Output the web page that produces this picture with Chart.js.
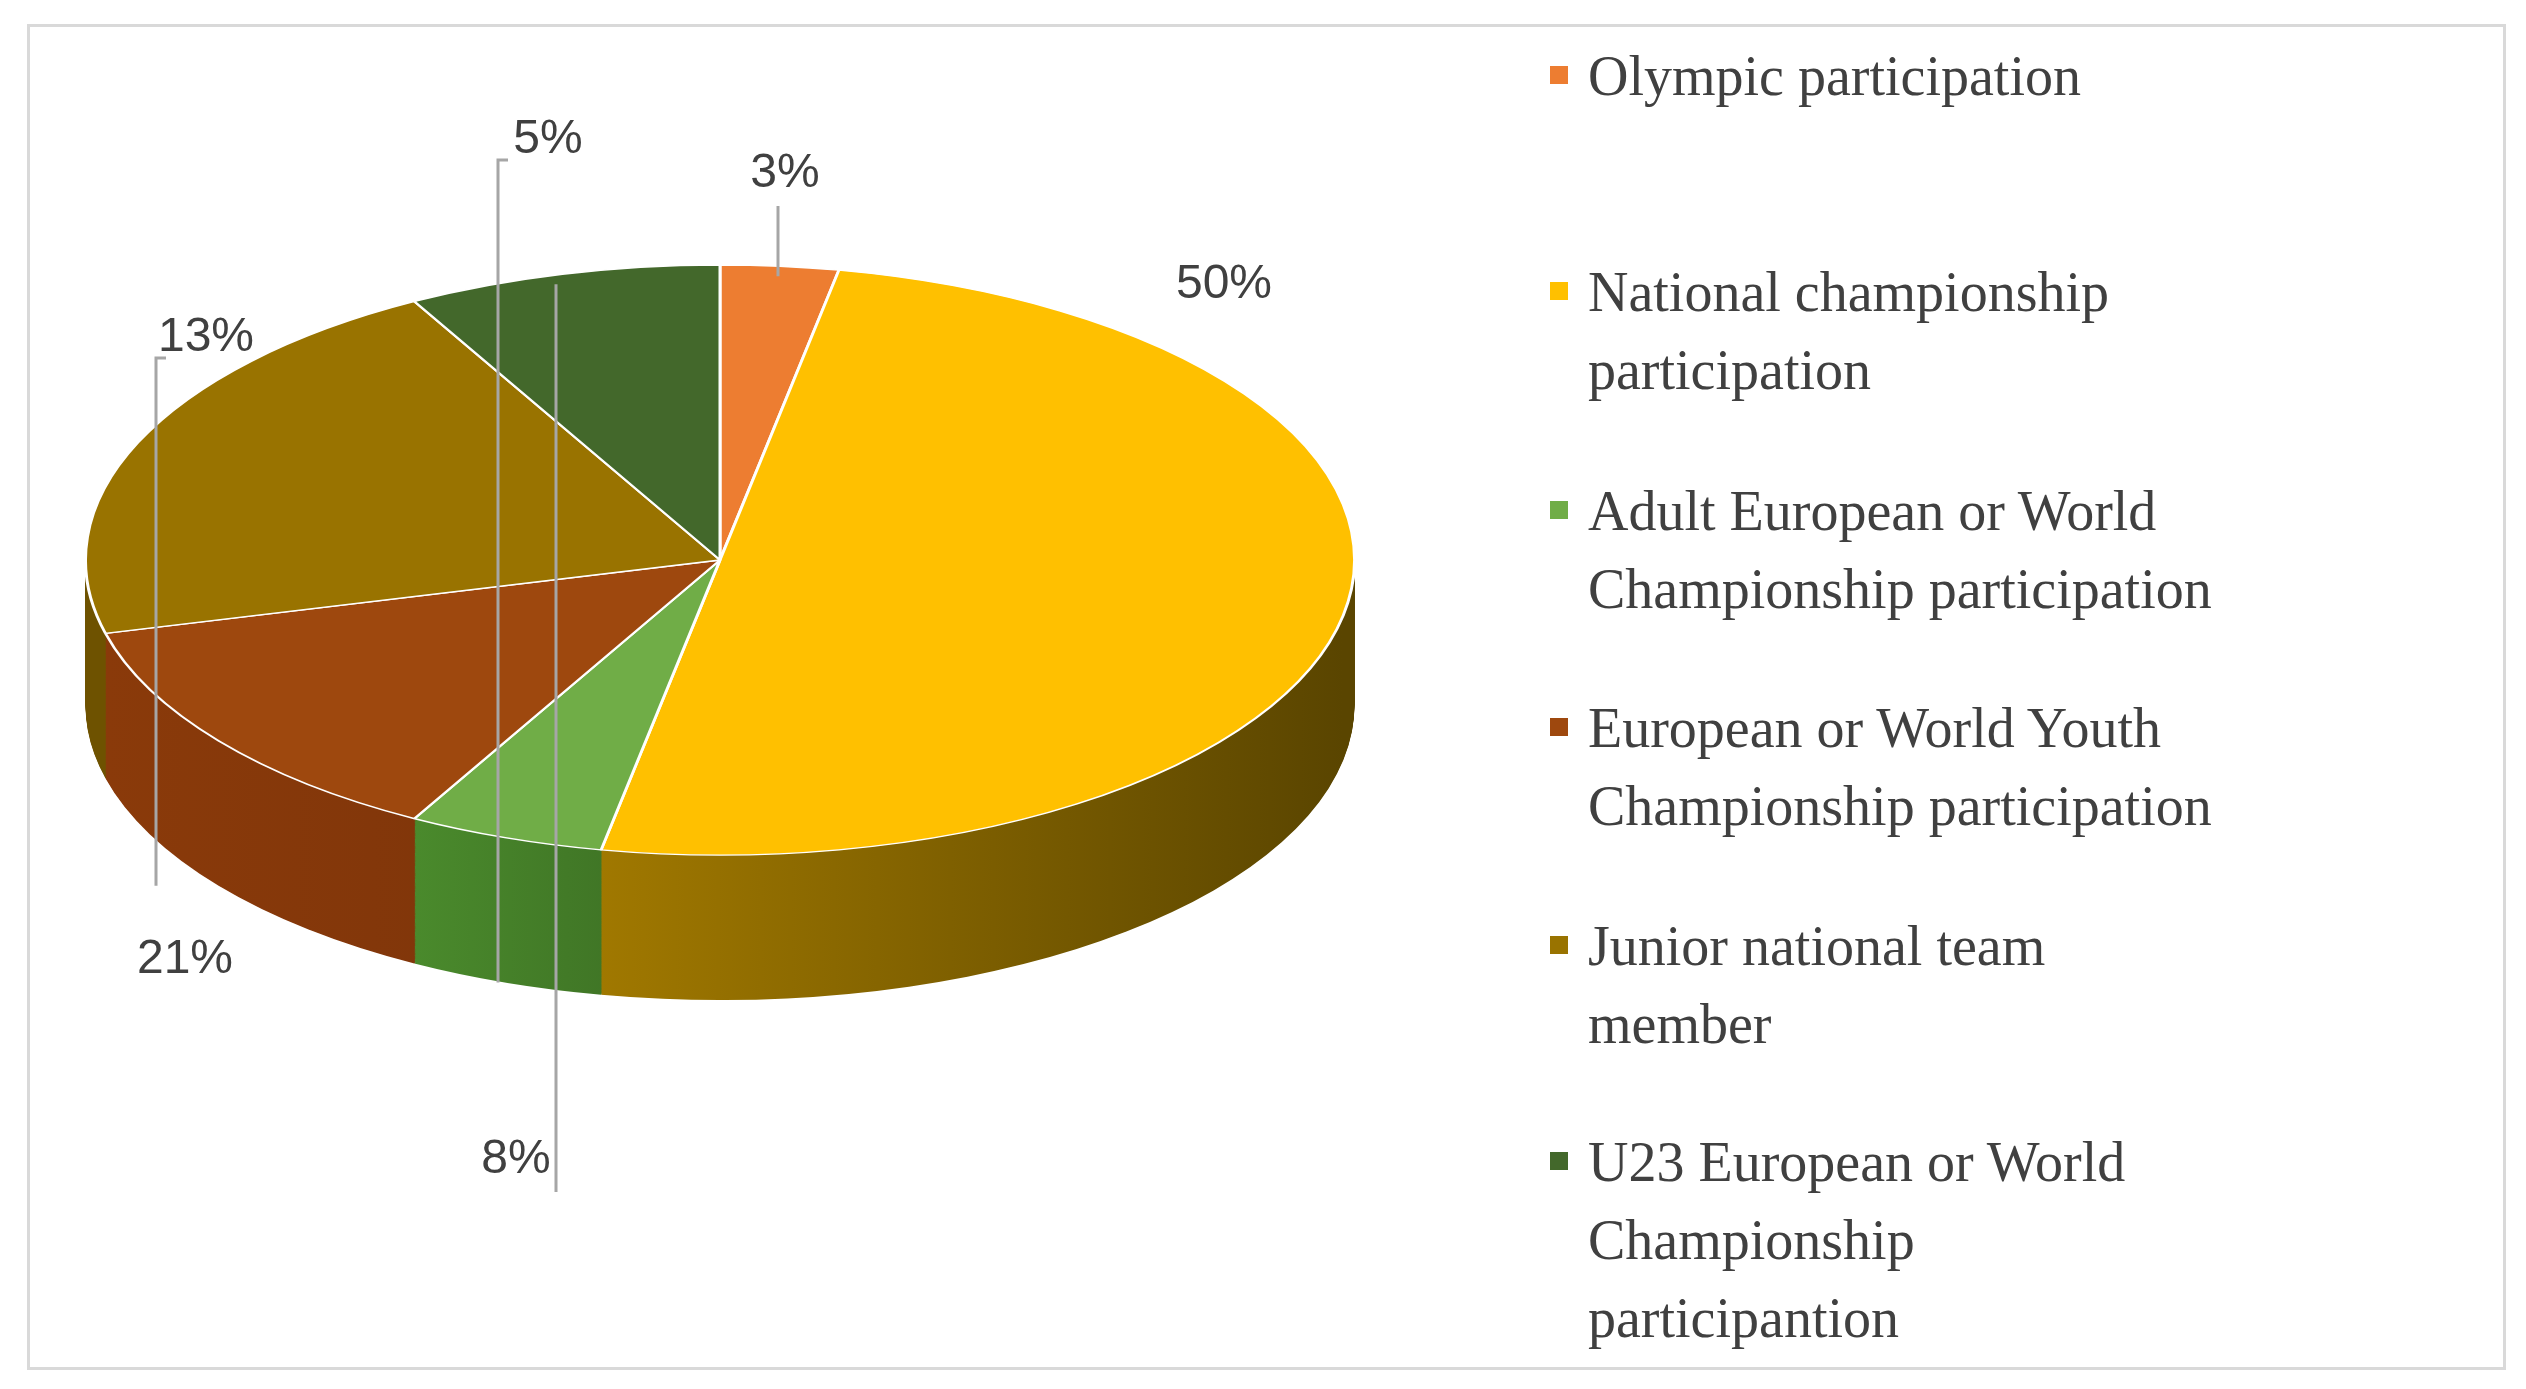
<!DOCTYPE html>
<html>
<head>
<meta charset="utf-8">
<script src="https://cdn.jsdelivr.net/npm/chart.js@4"></script>
<style>
  body { margin: 0; background: #fff; width: 2526px; height: 1389px; overflow: hidden; position: relative; }
  #frame { position: absolute; left: 27px; top: 24px; width: 2473px; height: 1340px; border: 3px solid #d9d9d9; }
  #wrap { position: absolute; left: 84px; top: 0; width: 1272px; height: 1389px; }
  .leg { position: absolute; left: 1588px; font: 56px "Liberation Serif", serif; color: #404040; line-height: 78px; }
  .leg i { position: absolute; left: -38px; top: 29px; width: 18px; height: 18px; }
</style>
</head>
<body>
<div id="frame"></div>
<div id="wrap"><canvas id="grafico"></canvas></div>
<div id="legend"></div>
<script>
const categorias = [
  "Olympic participation",
  "National championship\nparticipation",
  "Adult European or World\nChampionship participation",
  " European or World Youth\nChampionship participation",
  "Junior national team\nmember",
  "U23 European or World\nChampionship\nparticipantion"
];
const valores = [3, 50, 5, 13, 21, 8];
const colores = ["#ED7D31", "#FFC000", "#70AD47", "#9E480E", "#997300", "#43682B"];
const ladosIzq = ["#b85d20", "#a07800", "#4a8a2c", "#8a3a0a", "#6e5200", "#2f4c1d"];
const ladosDer = ["#b85d20", "#5a4500", "#3a6a22", "#7a330a", "#6e5200", "#2f4c1d"];

// leyenda en HTML
const topes = [37, 253, 472, 689, 907, 1123];
const legend = document.getElementById("legend");
categorias.forEach((c, i) => {
  const d = document.createElement("div");
  d.className = "leg";
  d.style.top = topes[i] + "px";
  d.innerHTML = '<i style="background:' + colores[i] + '"></i>' + c.replace(/\n/g, "<br>");
  legend.appendChild(d);
});

const CY = 560;      // centro visual
const K = 0.465;     // aplastamiento vertical
const PROF = 145;    // profundidad 3D
// posición de etiquetas (coordenadas del lienzo) y si llevan línea guía
const posEtiq = [[701, 174], [1140, 285], [464, 140], [122, 338], [101, 960], [432, 1160]];
const guia = [true, false, true, true, false, true];

const pie3d = {
  id: "pie3d",
  beforeDatasetsDraw(chart) {
    const ctx = chart.ctx;
    const arcs = chart.getDatasetMeta(0).data;
    const cx = arcs[0].x, cy = arcs[0].y, r = arcs[0].outerRadius;
    ctx.save();
    ctx.translate(cx, CY);
    ctx.scale(1, K);
    ctx.translate(-cx, -cy);
    const grads = arcs.map((a, i) => {
      const xs = [a.startAngle, a.endAngle, (a.startAngle + a.endAngle) / 2].map(t => cx + r * Math.cos(t));
      const g = ctx.createLinearGradient(Math.min(...xs, cx), 0, Math.max(...xs, cx), 0);
      g.addColorStop(0, ladosIzq[i]);
      g.addColorStop(1, ladosDer[i]);
      return g;
    });
    for (let off = PROF / K; off > 0; off -= 2) {
      arcs.forEach((a, i) => {
        ctx.beginPath();
        ctx.moveTo(cx, cy + off);
        ctx.arc(cx, cy + off, a.outerRadius, a.startAngle, a.endAngle);
        ctx.closePath();
        ctx.fillStyle = grads[i];
        ctx.fill();
      });
    }
  },
  afterDatasetsDraw(chart) {
    const ctx = chart.ctx;
    ctx.restore();
    const arcs = chart.getDatasetMeta(0).data;
    const cx = arcs[0].x, r = arcs[0].outerRadius;
    ctx.font = "48px 'Liberation Sans', sans-serif";
    ctx.fillStyle = "#404040";
    ctx.textAlign = "center";
    ctx.textBaseline = "middle";
    ctx.strokeStyle = "#a6a6a6";
    ctx.lineWidth = 3;
    arcs.forEach((a, i) => {
      const m = (a.startAngle + a.endAngle) / 2;
      const [lx, ly] = posEtiq[i];
      if (guia[i]) {
        let ex = cx + r * Math.cos(m), ey = CY + r * K * Math.sin(m);
        ctx.beginPath();
        if (Math.sin(m) > 0) {
          ex = lx - 50; ey += PROF;
          ctx.moveTo(ex, ey);
          ctx.lineTo(ex, ly + 20);
          ctx.lineTo(ex + 10, ly + 20);
        } else if (i === 3) {
          ctx.moveTo(ex, ey);
          ctx.lineTo(lx - 60, ly + 25);
        } else {
          ex = lx + (i === 0 ? -7 : 40);
          ctx.moveTo(ex, CY + r * K * Math.sin(m) + 10);
          ctx.lineTo(ex, ly + 32);
        }
        ctx.stroke();
      }
      ctx.fillText(valores[i] + "%", lx, ly);
    });
  }
};

const chart = new Chart(document.getElementById("grafico"), {
  type: "pie",
  data: {
    labels: categorias,
    datasets: [{ data: valores, backgroundColor: colores, borderColor: "#fff", borderWidth: 3 }]
  },
  options: {
    responsive: true,
    maintainAspectRatio: false,
    animation: false,
    events: [],
    layout: { padding: 0 },
    plugins: { legend: { display: false }, tooltip: { enabled: false } }
  },
  plugins: [pie3d]
});
</script>
</body>
</html>
